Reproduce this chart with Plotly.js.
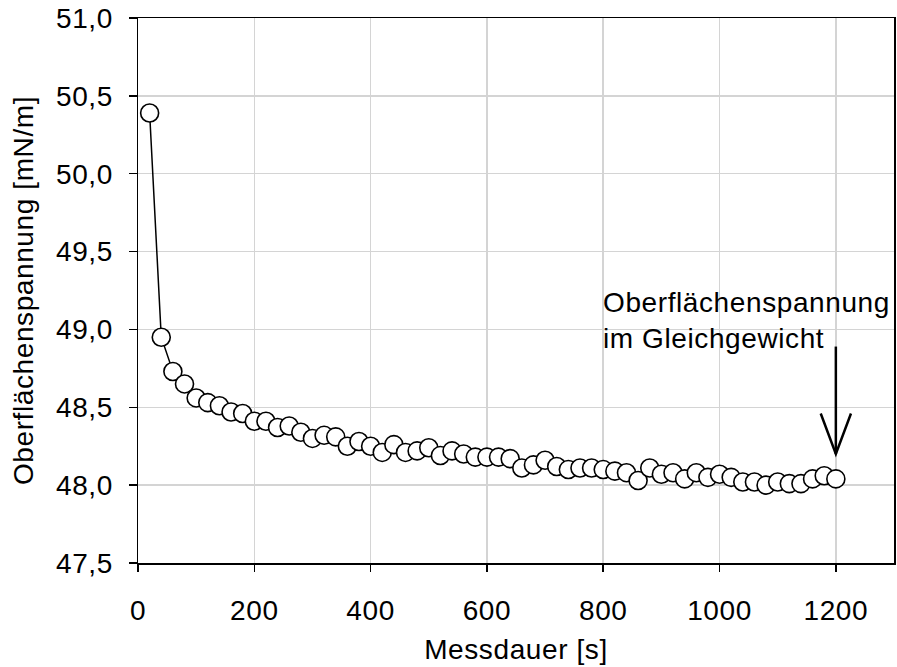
<!DOCTYPE html>
<html>
<head>
<meta charset="utf-8">
<script src="https://cdn.plot.ly/plotly-3.0.1.min.js"></script>
<style>
html,body{margin:0;padding:0;background:#fff;}
#chart{width:897px;height:667px;}
#chart text{letter-spacing:0.6px;}
</style>
</head>
<body>
<div id="chart"></div>
<script>
// Measurement time [s]
const messdauer = [20,40,60,80,100,120,140,160,180,200,220,240,260,280,300,320,340,360,380,400,
  420,440,460,480,500,520,540,560,580,600,620,640,660,680,700,720,740,760,780,800,
  820,840,860,880,900,920,940,960,980,1000,1020,1040,1060,1080,1100,1120,1140,1160,1180,1200];
// Surface tension [mN/m]
const spannung = [50.39,48.95,48.73,48.65,48.56,48.53,48.51,48.47,48.46,48.41,48.41,48.37,48.38,48.34,48.30,48.32,48.31,48.25,48.28,48.25,
  48.21,48.26,48.21,48.22,48.24,48.19,48.22,48.20,48.18,48.18,48.18,48.17,48.11,48.13,48.16,48.12,48.10,48.11,48.11,48.10,
  48.09,48.08,48.03,48.11,48.07,48.08,48.04,48.08,48.05,48.07,48.05,48.02,48.02,48.00,48.02,48.01,48.01,48.04,48.06,48.04];

const xTitle = 'Messdauer [s]';
const yTitle = 'Oberflächenspannung [mN/m]';
const annText = 'Oberflächenspannung<br>im Gleichgewicht';
// annotation arrow (data units)
const arrowX = 1200, arrowTipY = 48.20, arrowTopY = 48.89, armDX = 26, armDY = 0.26;
const annX = 797, annY = 49.06;

const FONT = 'Liberation Sans, Arial, Helvetica, sans-serif';
const fs = 28;

const trace = {
  x: messdauer, y: spannung, type: 'scatter', mode: 'lines+markers',
  line: {color: '#000', width: 1.5},
  marker: {size: 18, color: '#fff', line: {color: '#000', width: 1.6}},
  hoverinfo: 'skip'
};

const layout = {
  width: 897, height: 667,
  margin: {l: 138, r: 3, t: 18, b: 104},
  paper_bgcolor: '#fff', plot_bgcolor: '#fff',
  separators: ',.',
  showlegend: false,
  font: {family: FONT, size: fs, color: '#000'},
  xaxis: {
    range: [0, 1300], dtick: 200, tick0: 0,
    showgrid: true, gridcolor: '#d4d4d4', gridwidth: 1.5,
    zeroline: false, showline: true, linecolor: '#000', linewidth: 1.5, mirror: true,
    ticks: 'outside', ticklen: 7, tickwidth: 1.5, tickcolor: '#000',
    ticklabelstandoff: 15,
    tickfont: {family: FONT, size: fs, color: '#000'},
    title: {text: xTitle, font: {family: FONT, size: fs, color: '#000'}, standoff: 14}
  },
  yaxis: {
    range: [47.5, 51.0], dtick: 0.5, tick0: 47.5, tickformat: '.1f',
    showgrid: true, gridcolor: '#d4d4d4', gridwidth: 1.5,
    zeroline: false, showline: true, linecolor: '#000', linewidth: 1.5, mirror: true,
    ticks: 'outside', ticklen: 8, tickwidth: 1.5, tickcolor: '#000',
    ticklabelstandoff: 10,
    tickfont: {family: FONT, size: fs, color: '#000'},
    title: {text: yTitle, font: {family: FONT, size: fs, color: '#000'}, standoff: 16}
  },
  annotations: [{
    x: annX, y: annY, xref: 'x', yref: 'y', xanchor: 'left', yanchor: 'middle',
    text: annText, showarrow: false, align: 'left',
    font: {family: FONT, size: fs, color: '#000'}
  }],
  shapes: [
    {type: 'line', xref: 'x', yref: 'y', x0: arrowX, x1: arrowX, y0: arrowTopY, y1: arrowTipY,
     line: {color: '#000', width: 2.5}},
    {type: 'path', xref: 'x', yref: 'y',
     path: 'M ' + (arrowX - armDX) + ',' + (arrowTipY + armDY) + ' L ' + arrowX + ',' + arrowTipY + ' L ' + (arrowX + armDX) + ',' + (arrowTipY + armDY),
     line: {color: '#000', width: 2.5}}
  ]
};

Plotly.newPlot('chart', [trace], layout, {staticPlot: true, displayModeBar: false});
</script>
</body>
</html>
